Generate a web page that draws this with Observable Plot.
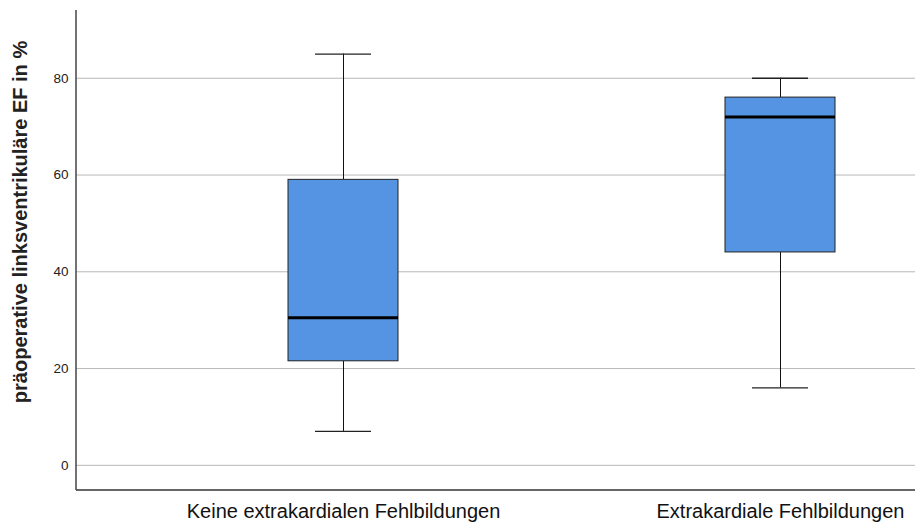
<!DOCTYPE html>
<html><head><meta charset="utf-8">
<script src="https://cdn.jsdelivr.net/npm/d3@7"></script>
<script src="https://cdn.jsdelivr.net/npm/@observablehq/plot@0.6"></script>
<style>body{margin:0;background:#fff;font-family:Arial,"Liberation Sans",sans-serif}</style>
</head><body><div id="chart"></div>
<script>
const categories = ["Keine extrakardialen Fehlbildungen", "Extrakardiale Fehlbildungen"];
const mins = [7, 16];
const q1s = [21.5, 44];
const medians = [30.5, 72];
const q3s = [59, 76];
const maxs = [85, 80];
const yTicks = [0, 20, 40, 60, 80];
const yLabel = "präoperative linksventrikuläre EF in %";

const data = categories.map((c, i) => ({c, min: mins[i], q1: q1s[i], med: medians[i], q3: q3s[i], max: maxs[i]}));

const chart = Plot.plot({
  width: 915, height: 524,
  marginLeft: 76, marginRight: 0, marginTop: 10, marginBottom: 34,
  style: {fontFamily: "Arial, 'Liberation Sans', sans-serif", background: "#fff"},
  x: {domain: categories, range: [288, 835], paddingInner: 0.7483, paddingOuter: 0, label: null},
  y: {domain: [-5.2, 94], label: null},
  marks: [
    Plot.ruleY(yTicks, {stroke: "#b8b8b8", strokeWidth: 1}),
    Plot.axisY({ticks: yTicks, tickSize: 0, tickPadding: 8, fontSize: 13.5, fill: "#222", label: null}),
    Plot.axisX({tickSize: 0, tickPadding: 13, fontSize: 20, fill: "#111", label: null}),
    Plot.ruleX(data, {x: "c", y1: "min", y2: "q1", stroke: "#111", strokeWidth: 1}),
    Plot.ruleX(data, {x: "c", y1: "q3", y2: "max", stroke: "#111", strokeWidth: 1}),
    Plot.tickY(data, {x: "c", y: "min", stroke: "#222", strokeWidth: 1.3, insetLeft: 27, insetRight: 27}),
    Plot.tickY(data, {x: "c", y: "max", stroke: "#222", strokeWidth: 1.3, insetLeft: 27, insetRight: 27}),
    Plot.barY(data, {x: "c", y1: "q1", y2: "q3", fill: "#5494e3", stroke: "#222", strokeWidth: 1}),
    Plot.tickY(data, {x: "c", y: "med", stroke: "#000", strokeWidth: 3})
  ]
});

const svg = d3.select(chart);
const ys = chart.scale("y");
svg.append("line").attr("x1", 76).attr("x2", 915).attr("y1", ys.apply(-5.2)).attr("y2", ys.apply(-5.2))
  .attr("stroke", "#666").attr("stroke-width", 2);
svg.append("line").attr("x1", 76).attr("x2", 76).attr("y1", ys.apply(94)).attr("y2", ys.apply(-5.2))
  .attr("stroke", "#444").attr("stroke-width", 1.5);
svg.append("text").attr("transform", "translate(27,222) rotate(-90)")
  .attr("text-anchor", "middle").attr("font-size", 20).attr("font-weight", "bold")
  .attr("fill", "#222").attr("font-family", "Arial, 'Liberation Sans', sans-serif").text(yLabel);
document.getElementById("chart").append(chart);
</script></body></html>
